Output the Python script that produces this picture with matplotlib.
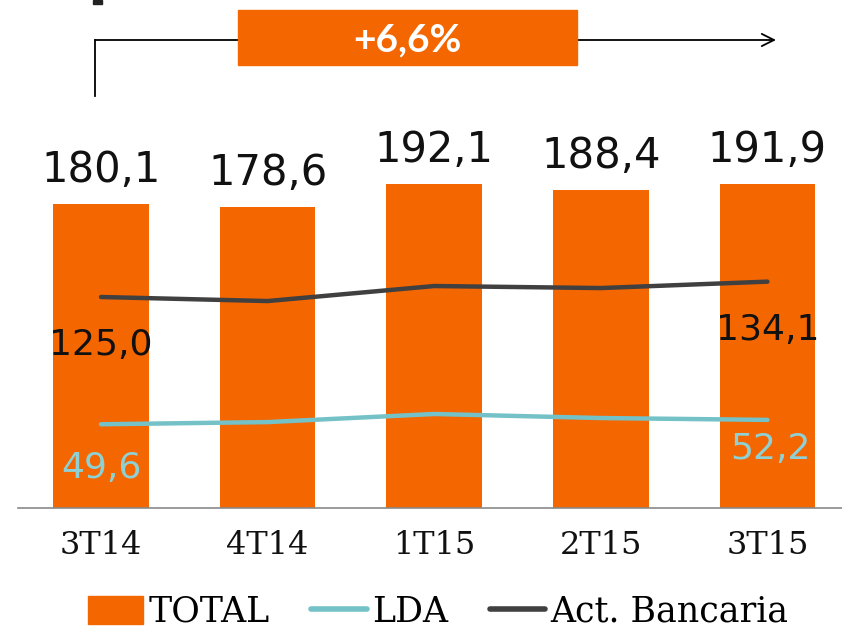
import matplotlib.pyplot as plt
from matplotlib.lines import Line2D
from matplotlib.patches import Patch, Rectangle

quarters = ["3T14", "4T14", "1T15", "2T15", "3T15"]
total = [180.1, 178.6, 192.1, 188.4, 191.9]
bancaria = [125.0, 122.6, 131.5, 130.3, 134.1]
lda = [49.6, 50.9, 55.7, 53.3, 52.2]
growth = "+6,6%"

ORANGE = "#f46600"
TEAL = "#74c2c7"
TEAL_TXT = "#8fd0d4"
DARK = "#404040"


def fmt(v):
    return f"{v:.1f}".replace(".", ",")


fig = plt.figure(figsize=(8.42, 6.26), dpi=100)
ax = fig.add_axes([17.7 / 842, 118 / 626, 833 / 842, 337.6 / 626])
x = range(len(quarters))

ax.bar(x, total, width=0.575, color=ORANGE, zorder=1)
ax.plot(x, bancaria, color=DARK, linewidth=3.2, solid_capstyle="round", zorder=3)
ax.plot(x, lda, color=TEAL, linewidth=3.2, solid_capstyle="round", zorder=3)

ax.set_xlim(-0.5, 4.5)
ax.set_ylim(0, 200)
ax.set_yticks([])
for side in ("top", "right", "left"):
    ax.spines[side].set_visible(False)
ax.spines["bottom"].set_color("#8a8a8a")
ax.spines["bottom"].set_linewidth(1.2)
ax.set_xticks(list(x))
ax.set_xticklabels(quarters, family="DejaVu Serif", fontsize=23, color="#111111")
ax.tick_params(axis="x", length=0, pad=16)

num_font = dict(family="DejaVu Sans", fontsize=30, ha="center", va="center")
for i, v in enumerate(total):
    ax.annotate(fmt(v), (i, v), xytext=(0, 34), textcoords="offset pixels",
                color="#111111", **num_font)

small = dict(num_font, fontsize=26)
ax.annotate(fmt(bancaria[0]), (0, bancaria[0]), xytext=(0, -48),
            textcoords="offset pixels", color="#111111", **small)
ax.annotate(fmt(bancaria[-1]), (4, bancaria[-1]), xytext=(0, -48),
            textcoords="offset pixels", color="#111111", **small)
ax.annotate(fmt(lda[0]), (0, lda[0]), xytext=(0, -44),
            textcoords="offset pixels", color=TEAL_TXT, **small)
ax.annotate(fmt(lda[-1]), (4, lda[-1]), xytext=(3, -29),
            textcoords="offset pixels", color=TEAL_TXT, **small)

# growth bracket at the top
W, H = 842, 626
fig.add_artist(Line2D([95 / W, 95 / W], [1 - 96 / H, 1 - 40 / H],
                      color="black", linewidth=1.3))
ax.annotate("", xy=(776 / W, 1 - 40 / H), xytext=(95 / W, 1 - 40 / H),
            xycoords="figure fraction", textcoords="figure fraction",
            arrowprops=dict(arrowstyle="->", color="black", lw=1.3,
                            mutation_scale=22, shrinkA=0, shrinkB=0))
fig.add_artist(Rectangle((238 / W, 1 - 65 / H), 339 / W, 55 / H,
                         transform=fig.transFigure, color=ORANGE, zorder=5))
fig.text(407 / W, 1 - 40 / H, growth, color="white", fontsize=28,
         fontweight="bold", family=["Lato", "DejaVu Sans"],
         ha="center", va="center", zorder=6)
fig.add_artist(Rectangle((93 / W, 1 - 4 / H), 9 / W, 4 / H,
                         transform=fig.transFigure, color="#222222"))

handles = [
    Patch(color=ORANGE, label="TOTAL"),
    Line2D([], [], color=TEAL, linewidth=4, solid_capstyle="round", label="LDA"),
    Line2D([], [], color=DARK, linewidth=4, solid_capstyle="round", label="Act. Bancaria"),
]
fig.legend(handles=handles, loc="center", bbox_to_anchor=(0.5 + 17 / W, 1 - 612 / H),
           ncol=3, frameon=False, prop=dict(family="DejaVu Serif", size=25),
           handlelength=1.6, handleheight=0.9, handletextpad=0.15,
           columnspacing=1.2)

fig.savefig("out.png", dpi=100)
